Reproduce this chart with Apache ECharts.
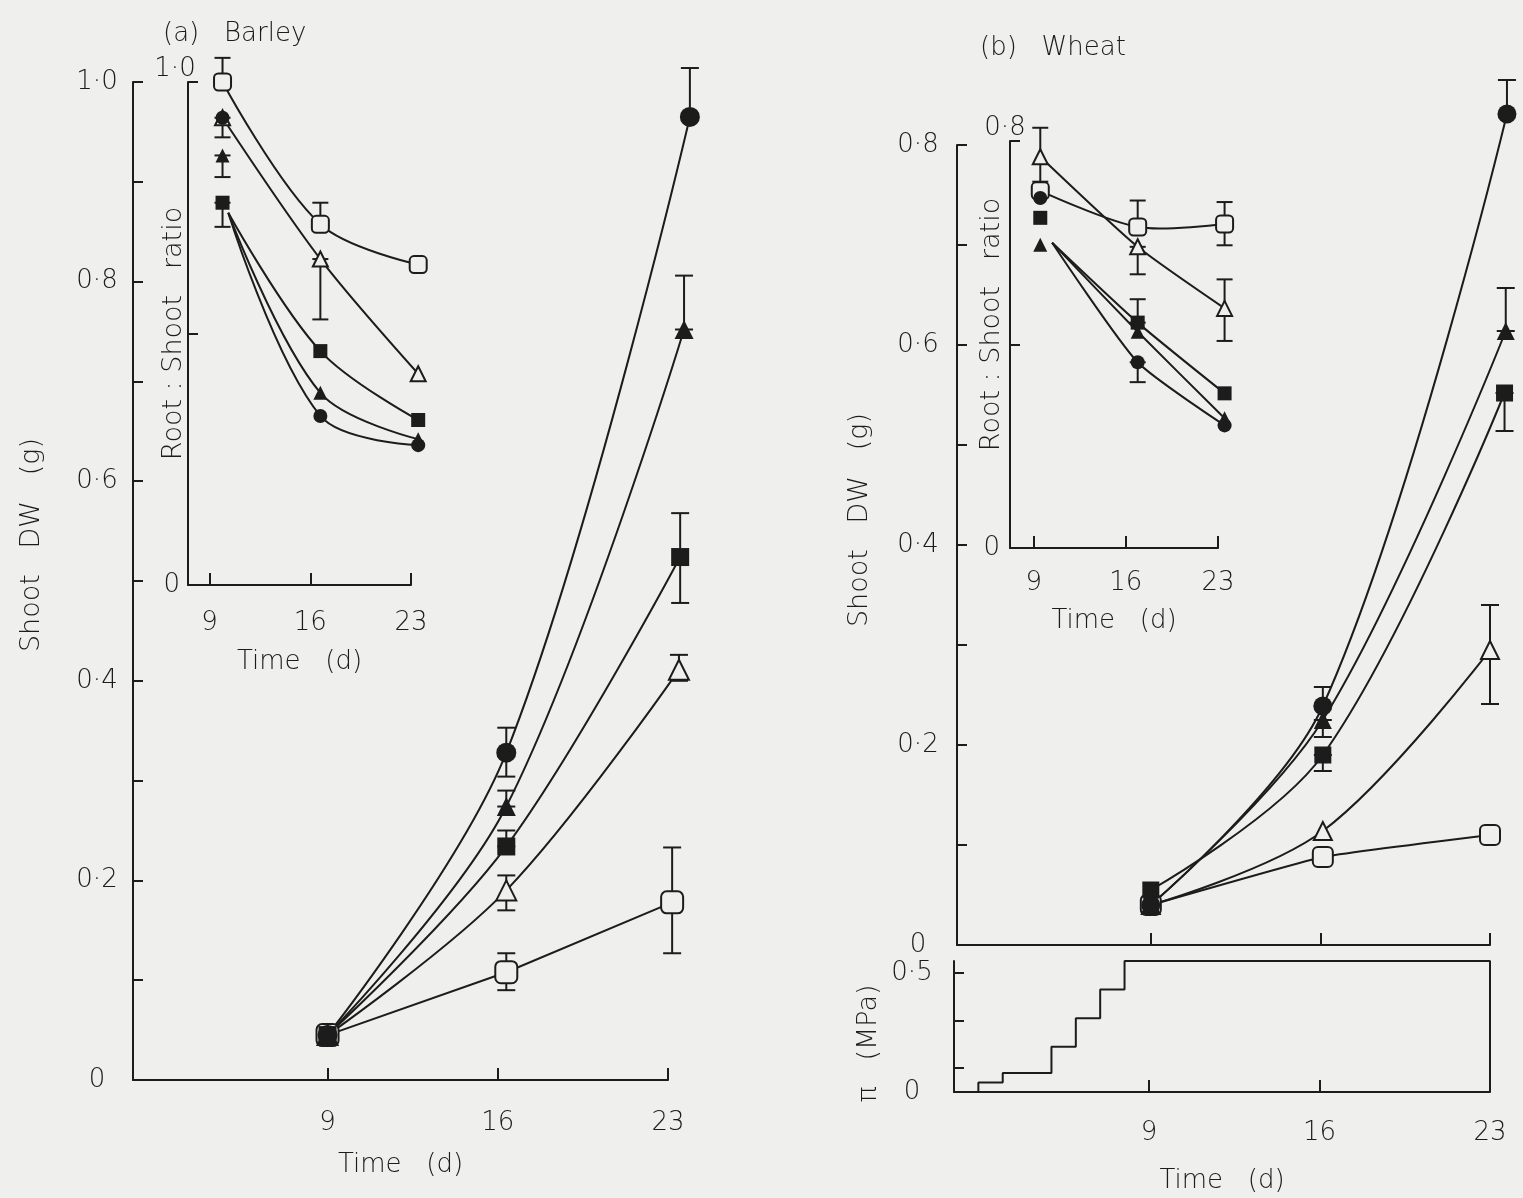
<!DOCTYPE html>
<html><head><meta charset="utf-8">
<script src="https://cdn.jsdelivr.net/npm/echarts@6/dist/echarts.min.js"></script>
<style>html,body{margin:0;padding:0;background:#efefed}#c{width:1523px;height:1198px}</style>
</head><body><div id="c"></div>
<script>
// ---------------- DATA ----------------
const tickDays = [9, 16, 23];

// (a) Barley — shoot DW (g); points as [day, value]
const barleyShootOpenSquare     = [[9, 0.045], [16.35, 0.108], [23.17, 0.178]];
const barleyShootOpenTriangle   = [[9, 0.045], [16.35, 0.19],  [23.45, 0.411]];
const barleyShootFilledSquare   = [[9, 0.045], [16.35, 0.234], [23.5, 0.524]];
const barleyShootFilledTriangle = [[9, 0.045], [16.35, 0.274], [23.66, 0.752]];
const barleyShootFilledCircle   = [[9, 0.045], [16.35, 0.328], [23.9, 0.965]];
// error bars [day, low, high]
const barleyShootErrOpenSquare     = [[16.35, 0.09, 0.127], [23.17, 0.127, 0.233]];
const barleyShootErrOpenTriangle   = [[16.35, 0.17, 0.205], [23.45, 0.40, 0.426]];
const barleyShootErrFilledSquare   = [[16.35, 0.234, 0.25], [23.5, 0.478, 0.568]];
const barleyShootErrFilledTriangle = [[16.35, 0.274, 0.29], [23.66, 0.752, 0.806]];
const barleyShootErrFilledCircle   = [[16.35, 0.304, 0.353], [23.9, 0.965, 1.014]];

// (a) Barley inset — Root:Shoot ratio
const barleyRatioOpenSquare     = [[9.9, 1.0],   [16.7, 0.717], [23.5, 0.637]];
const barleyRatioOpenTriangle   = [[9.9, 0.929], [16.7, 0.648], [23.5, 0.42]];
const barleyRatioFilledSquare   = [[9.9, 0.76],  [16.7, 0.465], [23.5, 0.328]];
const barleyRatioFilledTriangle = [[9.9, 0.854], [16.7, 0.382], [23.5, 0.29]];
const barleyRatioFilledCircle   = [[9.9, 0.929], [16.7, 0.336], [23.5, 0.278]];
const barleyRatioFitStart = [10.3, 0.74]; // where the closed-symbol fitted curves begin
const barleyRatioErrOpenSquare     = [[9.9, 1.0, 1.048], [16.7, 0.717, 0.76]];
const barleyRatioErrOpenTriangle   = [[16.7, 0.528, 0.648]];
const barleyRatioErrFilledSquare   = [[9.9, 0.712, 0.76]];
const barleyRatioErrFilledTriangle = [[9.9, 0.811, 0.854]];
const barleyRatioErrFilledCircle   = [[9.9, 0.89, 0.929]];

// (b) Wheat — shoot DW (g)
const wheatShootOpenSquare     = [[9, 0.04],  [16.1, 0.088], [23, 0.11]];
const wheatShootOpenTriangle   = [[9, 0.04],  [16.1, 0.114], [23, 0.295]];
const wheatShootFilledSquare   = [[9, 0.055], [16.1, 0.19],  [23.6, 0.552]];
const wheatShootFilledTriangle = [[9, 0.04],  [16.1, 0.225], [23.65, 0.614]];
const wheatShootFilledCircle   = [[9, 0.04],  [16.1, 0.239], [23.7, 0.831]];
const wheatShootErrOpenTriangle   = [[23, 0.241, 0.34]];
const wheatShootErrFilledSquare   = [[16.1, 0.174, 0.19], [23.6, 0.514, 0.552]];
const wheatShootErrFilledTriangle = [[16.1, 0.208, 0.225], [23.65, 0.614, 0.657]];
const wheatShootErrFilledCircle   = [[16.1, 0.239, 0.258], [23.7, 0.831, 0.865]];

// (b) Wheat inset — Root:Shoot ratio
const wheatRatioOpenSquare     = [[9.5, 0.702], [16.9, 0.631], [23.5, 0.637]];
const wheatRatioOpenTriangle   = [[9.5, 0.769], [16.9, 0.592], [23.5, 0.471]];
const wheatRatioFilledSquare   = [[9.5, 0.649], [16.9, 0.443], [23.5, 0.304]];
const wheatRatioFilledTriangle = [[9.5, 0.596], [16.9, 0.425], [23.5, 0.255]];
const wheatRatioFilledCircle   = [[9.5, 0.688], [16.9, 0.365], [23.5, 0.241]];
const wheatRatioFitStart = [10.4, 0.6];
const wheatRatioErrOpenSquare   = [[16.9, 0.631, 0.683], [23.5, 0.595, 0.68]];
const wheatRatioErrOpenTriangle = [[9.5, 0.72, 0.826], [16.9, 0.538, 0.592], [23.5, 0.407, 0.528]];
const wheatRatioErrFilledSquare = [[16.9, 0.443, 0.489]];
const wheatRatioErrFilledCircle = [[16.9, 0.326, 0.365]];

// Osmotic pressure of the medium (MPa) — stepwise increase
const osmoticDays = [1, 2, 3, 5, 6, 7, 8, 23];
const osmoticMPa  = [0, 0.04, 0.08, 0.19, 0.31, 0.43, 0.55, 0.55];

// tick label sets
const barleyShootTicks  = [0.1,0.2,0.3,0.4,0.5,0.6,0.7,0.8,0.9,1.0];
const barleyShootLabels = [0, 0.2, 0.4, 0.6, 0.8, 1.0];
const wheatShootTicks   = [0.1,0.2,0.3,0.4,0.5,0.6,0.7,0.8];
const wheatShootLabels  = [0, 0.2, 0.4, 0.6, 0.8];
const osmoticTicks  = [0.1, 0.3, 0.5];
const osmoticLabels = [0, 0.5];

// ---------------- STYLE / BUILD ----------------
const BG = '#efefed', INK = '#1c1c1c';
const FONT = "'DejaVu Sans', sans-serif";
const FS = 26;
const fmt = v => (v === 0 ? '0' : v.toFixed(1).replace('.', '\u00b7'));
const txt = (extra) => Object.assign({color: INK, fontFamily: FONT, fontSize: FS, fontWeight: 300}, extra || {});

function xAx(gridIndex, min, max, showLabels, labelMargin, name, nameGap) {
  return {
    type: 'value', gridIndex, min, max,
    axisLine: {show: true, onZero: false, lineStyle: {color: INK, width: 2}},
    axisTick: {show: true, inside: true, length: 12, customValues: tickDays, lineStyle: {color: INK, width: 2}},
    axisLabel: txt({show: showLabels, customValues: tickDays, margin: labelMargin, formatter: v => String(v)}),
    splitLine: {show: false},
    name: name, nameLocation: 'middle', nameGap: nameGap, nameMoveOverlap: false, nameTextStyle: txt()
  };
}
function yAx(gridIndex, max, ticks, labels, margin, align, name, nameGap, pad, nameSize) {
  return {
    type: 'value', gridIndex, min: 0, max, position: 'left',
    axisLine: {show: true, onZero: false, lineStyle: {color: INK, width: 2}},
    axisTick: {show: true, inside: true, length: 10, customValues: ticks, lineStyle: {color: INK, width: 2}},
    axisLabel: txt({customValues: labels, margin, align, formatter: fmt}),
    splitLine: {show: false},
    name, nameLocation: 'middle', nameRotate: 90, nameGap, nameMoveOverlap: false,
    nameTextStyle: txt({padding: pad, fontSize: nameSize})
  };
}
function topLabelAx(gridIndex, max, margin) {
  return {
    type: 'value', gridIndex, min: 0, max, position: 'left', offset: 0,
    axisLine: {show: false}, axisTick: {show: false}, splitLine: {show: false},
    axisLabel: txt({customValues: [max], margin, align: 'center', verticalAlign: 'bottom', formatter: fmt})
  };
}

const series = [];
// fitted curves drawn through the axes' coordinate system (not clipped at the axis end)
function curve(points, ax, smooth) {
  series.push({type: 'custom', xAxisIndex: ax, yAxisIndex: ax, data: points, clip: false, silent: true, z: 2,
    encode: {x: 0, y: 1},
    renderItem: (p, api) => p.dataIndex !== 0 ? null : {
      type: 'polyline',
      shape: {points: points.map(pt => api.coord(pt)), smooth},
      style: {stroke: INK, lineWidth: 2, fill: null}
    }});
}
function errs(list, ax, cap) {
  const data = [].concat(...list);
  series.push({type: 'custom', xAxisIndex: ax, yAxisIndex: ax, data, clip: false, silent: true, z: 3,
    encode: {x: 0, y: [1, 2]},
    renderItem: (p, api) => {
      const x = api.value(0);
      const a = api.coord([x, api.value(1)]), b = api.coord([x, api.value(2)]);
      const st = {stroke: INK, lineWidth: 2};
      return {type: 'group', children: [
        {type: 'line', shape: {x1: a[0], y1: a[1], x2: b[0], y2: b[1]}, style: st},
        {type: 'line', shape: {x1: a[0] - cap, y1: a[1], x2: a[0] + cap, y2: a[1]}, style: st},
        {type: 'line', shape: {x1: b[0] - cap, y1: b[1], x2: b[0] + cap, y2: b[1]}, style: st}
      ]};
    }});
}
const SYM = {
  openSquare: ['roundRect', false], openTriangle: ['triangle', false],
  filledSquare: ['rect', true], filledTriangle: ['triangle', true], filledCircle: ['circle', true]
};
function marks(data, kind, ax, size) {
  const [symbol, filled] = SYM[kind];
  series.push({type: 'scatter', data, xAxisIndex: ax, yAxisIndex: ax, symbol, symbolSize: size,
    clip: false, silent: true, z: 4,
    itemStyle: filled ? {color: INK, opacity: 1} : {color: BG, borderColor: INK, borderWidth: 2, opacity: 1}});
}

// --- Barley main (axis 0)
curve(barleyShootOpenSquare, 0, 0);
curve(barleyShootOpenTriangle, 0, 0.35);
curve(barleyShootFilledSquare, 0, 0.35);
curve(barleyShootFilledTriangle, 0, 0.35);
curve(barleyShootFilledCircle, 0, 0.35);
errs([barleyShootErrOpenSquare, barleyShootErrOpenTriangle, barleyShootErrFilledSquare,
      barleyShootErrFilledTriangle, barleyShootErrFilledCircle], 0, 9);
marks(barleyShootOpenSquare, 'openSquare', 0, 22);
marks(barleyShootOpenTriangle, 'openTriangle', 0, 20);
marks(barleyShootFilledSquare, 'filledSquare', 0, 18);
marks(barleyShootFilledTriangle, 'filledTriangle', 0, 19);
marks(barleyShootFilledCircle, 'filledCircle', 0, 20);

// --- Barley inset (axis 1)
curve(barleyRatioOpenSquare, 1, 0.35);
curve(barleyRatioOpenTriangle, 1, 0.3);
curve([barleyRatioFitStart, barleyRatioFilledSquare[1], barleyRatioFilledSquare[2]], 1, 0.35);
curve([barleyRatioFitStart, barleyRatioFilledTriangle[1], barleyRatioFilledTriangle[2]], 1, 0.35);
curve([barleyRatioFitStart, barleyRatioFilledCircle[1], barleyRatioFilledCircle[2]], 1, 0.35);
errs([barleyRatioErrOpenSquare, barleyRatioErrOpenTriangle, barleyRatioErrFilledSquare,
      barleyRatioErrFilledTriangle, barleyRatioErrFilledCircle], 1, 8);
marks(barleyRatioOpenSquare, 'openSquare', 1, 17);
marks(barleyRatioOpenTriangle, 'openTriangle', 1, 15);
marks(barleyRatioFilledSquare, 'filledSquare', 1, 14);
marks(barleyRatioFilledTriangle, 'filledTriangle', 1, 14);
marks(barleyRatioFilledCircle, 'filledCircle', 1, 14);

// --- Wheat main (axis 2)
curve(wheatShootOpenSquare, 2, 0.1);
curve(wheatShootOpenTriangle, 2, 0.35);
curve(wheatShootFilledSquare, 2, 0.35);
curve(wheatShootFilledTriangle, 2, 0.35);
curve(wheatShootFilledCircle, 2, 0.35);
errs([wheatShootErrOpenTriangle, wheatShootErrFilledSquare, wheatShootErrFilledTriangle,
      wheatShootErrFilledCircle], 2, 9);
marks(wheatShootOpenSquare, 'openSquare', 2, 20);
marks(wheatShootOpenTriangle, 'openTriangle', 2, 18);
marks(wheatShootFilledSquare, 'filledSquare', 2, 17);
marks(wheatShootFilledTriangle, 'filledTriangle', 2, 18);
marks(wheatShootFilledCircle, 'filledCircle', 2, 19);

// --- Wheat inset (axis 3)
curve(wheatRatioOpenSquare, 3, 0.3);
curve(wheatRatioOpenTriangle, 3, 0.2);
curve([wheatRatioFitStart, wheatRatioFilledSquare[1], wheatRatioFilledSquare[2]], 3, 0.2);
curve([wheatRatioFitStart, wheatRatioFilledTriangle[1], wheatRatioFilledTriangle[2]], 3, 0.2);
curve([wheatRatioFitStart, wheatRatioFilledCircle[1], wheatRatioFilledCircle[2]], 3, 0.2);
errs([wheatRatioErrOpenSquare, wheatRatioErrOpenTriangle, wheatRatioErrFilledSquare,
      wheatRatioErrFilledCircle], 3, 8);
marks(wheatRatioOpenSquare, 'openSquare', 3, 17);
marks(wheatRatioOpenTriangle, 'openTriangle', 3, 15);
marks(wheatRatioFilledSquare, 'filledSquare', 3, 14);
marks(wheatRatioFilledTriangle, 'filledTriangle', 3, 14);
marks(wheatRatioFilledCircle, 'filledCircle', 3, 14);

// --- Osmotic staircase (axis 4) + right edge back to zero
const stepData = osmoticDays.map((d, i) => [d, osmoticMPa[i]]);
stepData.push([osmoticDays[osmoticDays.length - 1], 0]);
series.push({type: 'line', step: 'end', data: stepData, xAxisIndex: 4, yAxisIndex: 4, symbol: 'none',
  clip: false, silent: true, lineStyle: {color: INK, width: 2}});

const option = {
  backgroundColor: BG,
  animation: false,
  title: [
    {text: '(a)   Barley', left: 158, top: 16, textStyle: txt({fontSize: 26})},
    {text: '(b)   Wheat', left: 975, top: 30, textStyle: txt({fontSize: 26})}
  ],
  grid: [
    {left: 133, top: 82, width: 535, height: 998, containLabel: false, outerBoundsMode: 'none'},
    {left: 188, top: 82, width: 223, height: 503, containLabel: false, outerBoundsMode: 'none'},
    {left: 957, top: 145, width: 533, height: 800, containLabel: false, outerBoundsMode: 'none'},
    {left: 1010, top: 141, width: 208, height: 407, containLabel: false, outerBoundsMode: 'none'},
    {left: 954, top: 961, width: 536, height: 131, containLabel: false, outerBoundsMode: 'none'}
  ],
  xAxis: [
    xAx(0, 1, 23, true, 30, 'Time   (d)', 72),
    xAx(1, 7.5, 23, true, 25, 'Time   (d)', 64),
    xAx(2, 1, 23, false, 0, '', 0),
    xAx(3, 7.2, 23, true, 22, 'Time   (d)', 60),
    xAx(4, 1, 23, true, 28, 'Time   (d)', 76)
  ],
  yAxis: [
    yAx(0, 1.0, barleyShootTicks, barleyShootLabels, 36, 'center', 'Shoot   DW   (g)', 88, [0, 0, 0, 72], 27),
    yAx(1, 1.0, [0.5, 1.0], [0], 8, 'right', 'Root : Shoot   ratio', 1, [0, 0, 0, 0], 27),
    yAx(2, 0.8, wheatShootTicks, wheatShootLabels, 39, 'center', 'Shoot   DW   (g)', 84, [0, 0, 0, 50], 27),
    yAx(3, 0.8, [0.4, 0.8], [0], 10, 'right', 'Root : Shoot   ratio', 5, [0, 0, 0, 40], 27),
    yAx(4, 0.55, osmoticTicks, osmoticLabels, 42, 'center', '\u03c0   (MPa)', 72, [0, 34, 0, 0], 27),
    topLabelAx(1, 1.0, 13),
    topLabelAx(3, 0.8, 5)
  ],
  series
};
const chart = echarts.init(document.getElementById('c'), null, {renderer: 'canvas'});
chart.setOption(option);
</script>
</body></html>
